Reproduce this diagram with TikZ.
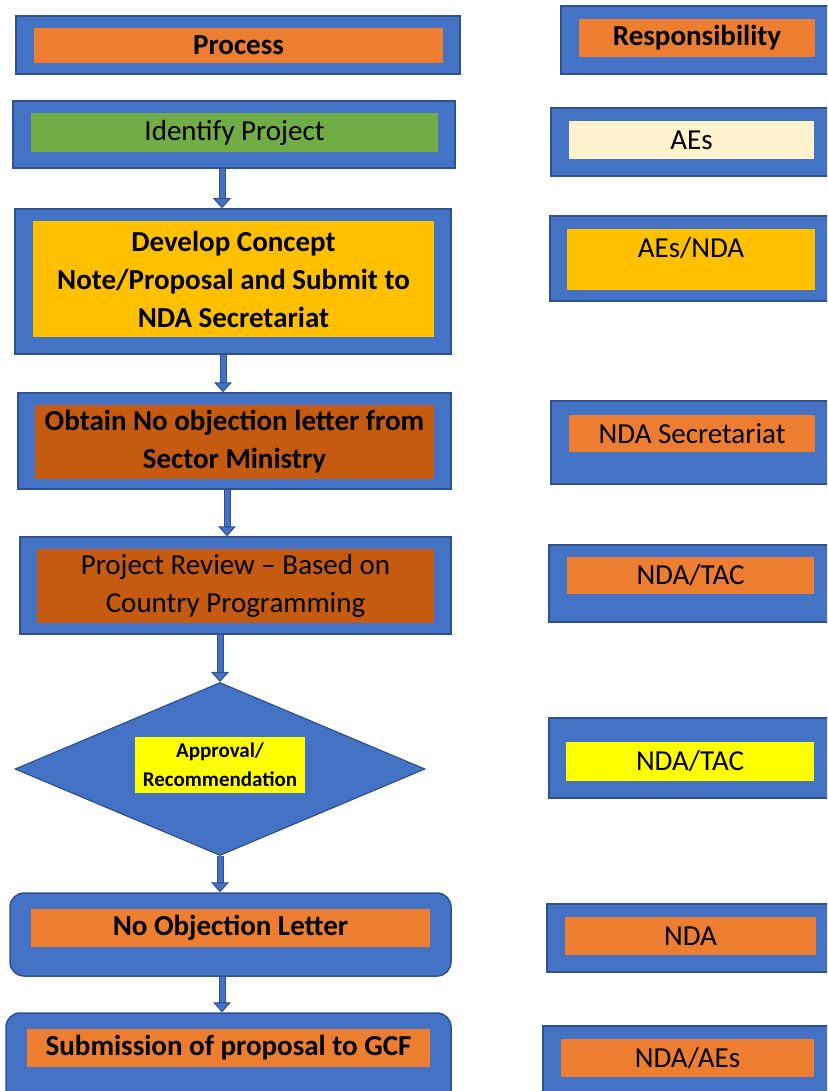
\documentclass[tikz,border=0pt]{standalone}
\usepackage{fontspec}
\setmainfont{Carlito}
\usetikzlibrary{shapes.geometric,arrows.meta}
\definecolor{boxblue}{HTML}{4472C4}
\definecolor{edgeblue}{HTML}{2F528F}
\definecolor{tagorange}{HTML}{ED7D31}
\definecolor{taggreen}{HTML}{70AD47}
\definecolor{taggold}{HTML}{FFC000}
\definecolor{tagrust}{HTML}{C55A11}
\definecolor{tagcream}{HTML}{FFF2CC}
\definecolor{tagyellow}{HTML}{FFFF00}
\begin{document}
\begin{tikzpicture}[x=1pt,y=-1pt]
  \tikzset{frame/.style={draw=edgeblue, fill=boxblue, line width=1.5pt, inner sep=0pt},
    tag/.style={inner sep=0pt, align=center, text=black, font=\fontsize{29}{38}\selectfont},
    flow/.style={line width=7pt, draw=edgeblue, -{Triangle[length=10pt,width=18pt,fill=boxblue,line width=1pt]},
      postaction={draw=boxblue, line width=5pt, shorten >=10pt, -}}}
  \useasboundingbox (0,0) rectangle (827,1091);
  \clip (0,0) rectangle (827,1091);
  % process column
  \node[frame, minimum width=444, minimum height=58] (process) at (238,45) {};
  \node[tag, fill=tagorange, minimum width=409, minimum height=35] (processtxt) at (238.5,45.5) {\bfseries Process};
  \node[frame, minimum width=442, minimum height=67] (identify) at (234,134.5) {};
  \node[tag, fill=taggreen, minimum width=407, minimum height=39] (identifytxt) at (234.5,132.5) {Identify Project};
  \node[frame, minimum width=436, minimum height=145] (develop) at (233,281.5) {};
  \node[tag, fill=taggold, minimum width=401, minimum height=116] (developtxt) at (233.5,279) {\bfseries Develop Concept\\\bfseries Note/Proposal and Submit to\\\bfseries NDA Secretariat};
  \node[frame, minimum width=433, minimum height=96] (obtain) at (234.5,441) {};
  \node[tag, fill=tagrust, minimum width=399, minimum height=74] (obtaintxt) at (234.5,442) {\bfseries Obtain No objection letter from\\\bfseries Sector Ministry};
  \node[frame, minimum width=431, minimum height=97] (review) at (235.5,585.5) {};
  \node[tag, fill=tagrust, minimum width=397, minimum height=74] (reviewtxt) at (235.5,586) {Project Review -- Based on\\Country Programming};
  \node[frame, diamond, aspect=2.37, line width=1.2pt, minimum width=410, minimum height=173] (decide) at (220,769) {};
  \node[tag, fill=tagyellow, minimum width=170, minimum height=56, font=\fontsize{21}{29}\selectfont\bfseries] (decidetxt) at (220,765) {Approval/\\Recommendation};
  \node[frame, rounded corners=14pt, minimum width=441, minimum height=83] (noobj) at (230.5,934.5) {};
  \node[tag, fill=tagorange, minimum width=399, minimum height=38] (noobjtxt) at (230.5,928) {\bfseries No Objection Letter};
  \node[frame, rounded corners=14pt, minimum width=445, minimum height=92] (submit) at (228.5,1059) {};
  \node[tag, fill=tagorange, minimum width=403, minimum height=38] (submittxt) at (228.5,1048) {\bfseries Submission of proposal to GCF};
  % responsibility column
  \node[frame, minimum width=274, minimum height=68] (resp) at (698,40) {};
  \node[tag, fill=tagorange, minimum width=236, minimum height=38] (resptxt) at (697,38) {\bfseries Responsibility};
  \node[frame, minimum width=284, minimum height=68] (aes) at (693,142) {};
  \node[tag, fill=tagcream, minimum width=245, minimum height=38] (aestxt) at (691.5,140) {AEs};
  \node[frame, minimum width=285, minimum height=85] (aesnda) at (692.5,258.5) {};
  \node[tag, fill=taggold, minimum width=248, text height=28pt, text depth=33pt] (aesndatxt) at (691,259.5) {AEs/NDA};
  \node[frame, minimum width=284, minimum height=83] (ndasec) at (693,442.5) {};
  \node[tag, fill=tagorange, minimum width=246, minimum height=37] (ndasectxt) at (692,433.5) {NDA Secretariat};
  \node[frame, minimum width=286, minimum height=77] (tacone) at (692,583.5) {};
  \node[tag, fill=tagorange, minimum width=247, minimum height=37] (taconetxt) at (690.5,575.5) {NDA/TAC};
  \node[frame, minimum width=286, minimum height=80] (tactwo) at (692,758) {};
  \node[tag, fill=tagyellow, minimum width=248, minimum height=39] (tactwotxt) at (690,761.5) {NDA/TAC};
  \node[frame, minimum width=288, minimum height=68] (nda) at (691,938) {};
  \node[tag, fill=tagorange, minimum width=251, minimum height=38] (ndatxt) at (690.5,936) {NDA};
  \node[frame, minimum width=292, minimum height=74] (ndaaes) at (689,1063) {};
  \node[tag, fill=tagorange, minimum width=253, minimum height=38] (ndaaestxt) at (687.5,1058) {NDA/AEs};
  % flow arrows
  \draw[flow] ([xshift=-12pt]identify.south) -- ([xshift=-12pt]identify.south |- develop.north);
  \draw[flow] ([xshift=-10pt]develop.south) -- ([xshift=-10pt]develop.south |- obtain.north);
  \draw[flow] ([xshift=-7.5pt]obtain.south) -- ([xshift=-7.5pt]obtain.south |- review.north);
  \draw[flow] (decide.north |- review.south) -- (decide.north);
  \draw[flow] (decide.south) -- (decide.south |- noobj.north);
  \draw[flow] ([xshift=-8.5pt]noobj.south) -- ([xshift=-8.5pt]noobj.south |- submit.north);
\end{tikzpicture}
\end{document}
